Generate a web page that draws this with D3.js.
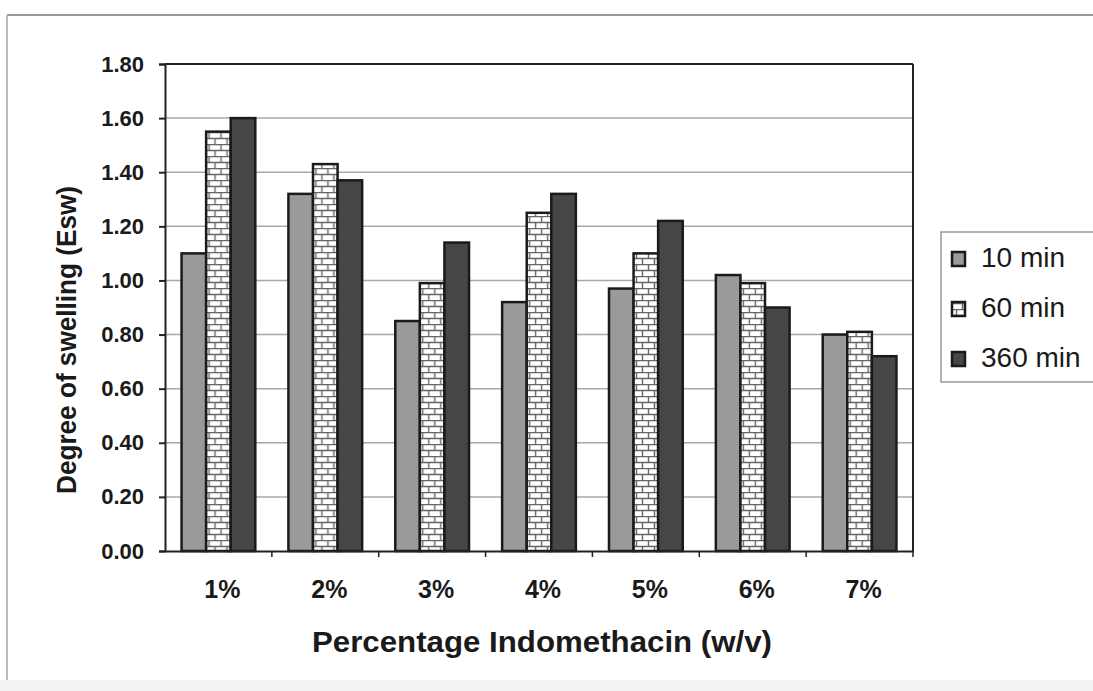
<!DOCTYPE html>
<html>
<head>
<meta charset="utf-8">
<script src="https://cdn.jsdelivr.net/npm/d3@7"></script>
<style>
  body { margin: 0; background: #fff; }
  text { font-family: Arial, "Liberation Sans", sans-serif; font-weight: bold; fill: #1a1a1a; }
</style>
</head>
<body>
<svg id="chart" width="1093" height="691"></svg>
<script>
// data
var categories = ["1%", "2%", "3%", "4%", "5%", "6%", "7%"];
var seriesNames = ["10 min", "60 min", "360 min"];
var min10  = [1.10, 1.32, 0.85, 0.92, 0.97, 1.02, 0.80];
var min60  = [1.55, 1.43, 0.99, 1.25, 1.10, 0.99, 0.81];
var min360 = [1.60, 1.37, 1.14, 1.32, 1.22, 0.90, 0.72];
var yTicks = [0, 0.2, 0.4, 0.6, 0.8, 1.0, 1.2, 1.4, 1.6, 1.8];

var series = [min10, min60, min360];

var svg = d3.select("#chart");
var W = 1093, H = 691;
var m = { left: 165, top: 64, right: 913, bottom: 551 };

// page frame
svg.append("rect").attr("x", 0).attr("y", 0).attr("width", W).attr("height", H).attr("fill", "#fff");
svg.append("rect").attr("x", 0).attr("y", 680).attr("width", W).attr("height", 11).attr("fill", "#f2f2f2");
svg.append("line").attr("x1", 7).attr("x2", W).attr("y1", 15).attr("y2", 15).attr("stroke", "#777").attr("stroke-width", 1.5);
svg.append("line").attr("x1", 7).attr("x2", 7).attr("y1", 15).attr("y2", 680).attr("stroke", "#bbb").attr("stroke-width", 2);

// brick pattern
var defs = svg.append("defs");
var pat = defs.append("pattern").attr("id", "brick").attr("patternUnits", "userSpaceOnUse")
  .attr("width", 12).attr("height", 12);
pat.append("rect").attr("width", 12).attr("height", 12).attr("fill", "#fff");
pat.append("path").attr("d", "M0,0.5H12 M0,6.5H12 M3.5,0V6 M9.5,6V12")
  .attr("stroke", "#666").attr("stroke-width", 1.4).attr("fill", "none");

var fills = ["#9a9a9a", "url(#brick)", "#464646"];

var x0 = d3.scaleBand().domain(categories).range([m.left, m.right]).paddingInner(0.31).paddingOuter(0.155);
var x1 = d3.scaleBand().domain(seriesNames).range([0, x0.bandwidth()]);
var y = d3.scaleLinear().domain([0, 1.8]).range([m.bottom, m.top]);

// gridlines
svg.append("g").selectAll("line").data(yTicks.slice(1)).enter().append("line")
  .attr("x1", m.left).attr("x2", m.right)
  .attr("y1", function(d) { return y(d); }).attr("y2", function(d) { return y(d); })
  .attr("stroke", "#a8a8a8").attr("stroke-width", 1.5);

// bars
var groups = svg.append("g").selectAll("g").data(categories).enter().append("g")
  .attr("transform", function(d) { return "translate(" + x0(d) + ",0)"; });

groups.selectAll("rect").data(function(c, i) {
    return seriesNames.map(function(s, j) { return { s: s, j: j, v: series[j][i] }; });
  }).enter().append("rect")
  .attr("x", function(d) { return x1(d.s); })
  .attr("y", function(d) { return y(d.v); })
  .attr("width", x1.bandwidth())
  .attr("height", function(d) { return y(0) - y(d.v); })
  .attr("fill", function(d) { return fills[d.j]; })
  .attr("stroke", "#1a1a1a").attr("stroke-width", 2.5);

// axes
var yAxis = d3.axisLeft(y).tickValues(yTicks).tickFormat(d3.format(".2f")).tickSize(6);
var gy = svg.append("g").attr("transform", "translate(" + m.left + ",0)").call(yAxis);
gy.selectAll("text").attr("font-size", 22).attr("dx", -12).style("font-weight", "bold");
gy.selectAll("line, path").attr("stroke", "#222").attr("stroke-width", 2);

var xAxis = d3.axisBottom(x0).tickSize(0).tickPadding(29);
var gx = svg.append("g").attr("transform", "translate(0," + m.bottom + ")").call(xAxis);
gx.selectAll("text").attr("font-size", 25).attr("dx", 4).style("font-weight", "bold");
gx.select("path").attr("stroke", "#222").attr("stroke-width", 2);
gx.selectAll(".tick").append("line").attr("x1", x0.step() / 2).attr("x2", x0.step() / 2)
  .attr("y1", 0).attr("y2", 6).attr("stroke", "#222").attr("stroke-width", 1.5);

// plot border top & right
svg.append("line").attr("x1", m.left).attr("x2", m.right).attr("y1", m.top).attr("y2", m.top).attr("stroke", "#222").attr("stroke-width", 2);
svg.append("line").attr("x1", m.right).attr("x2", m.right).attr("y1", m.top).attr("y2", m.bottom).attr("stroke", "#222").attr("stroke-width", 2);

// axis titles
svg.append("text").attr("x", 542).attr("y", 652).attr("text-anchor", "middle")
  .attr("font-size", 29).attr("textLength", 460).attr("lengthAdjust", "spacingAndGlyphs")
  .text("Percentage Indomethacin (w/v)");
svg.append("text").attr("transform", "translate(76,340) rotate(-90)").attr("text-anchor", "middle")
  .attr("font-size", 28).attr("textLength", 308).attr("lengthAdjust", "spacingAndGlyphs")
  .text("Degree of swelling (Esw)");

// legend
var lg = svg.append("g").attr("transform", "translate(941,232)");
lg.append("rect").attr("x", 0).attr("y", 0).attr("width", 160).attr("height", 150)
  .attr("fill", "#fff").attr("stroke", "#999").attr("stroke-width", 1.5);
var items = lg.selectAll("g").data(seriesNames).enter().append("g")
  .attr("transform", function(d, i) { return "translate(0," + (27 + i * 50) + ")"; });
items.append("rect").attr("x", 11).attr("y", -7).attr("width", 13).attr("height", 14)
  .attr("fill", function(d, i) { return fills[i]; }).attr("stroke", "#1a1a1a").attr("stroke-width", 2.5);
items.append("text").attr("x", 40).attr("y", 8).attr("font-size", 28)
  .style("font-weight", "normal").text(function(d) { return d; });
</script>
</body>
</html>
